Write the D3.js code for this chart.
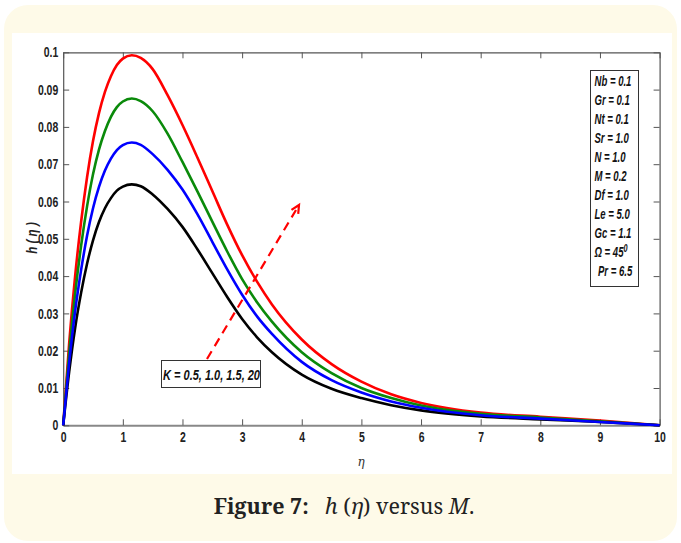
<!DOCTYPE html>
<html><head><meta charset="utf-8">
<script src="https://cdn.jsdelivr.net/npm/d3@7/dist/d3.min.js"></script>
<style>
html,body{margin:0;padding:0;background:#fff;}
svg{display:block;}
</style></head>
<body>
<svg id="chart" width="681" height="543"></svg>
<script>
// ---- data ----
const eta = [0, 0.1, 0.2, 0.3, 0.4, 0.5, 0.6, 0.7, 0.8, 0.9, 1.0, 1.15, 1.3, 1.5, 1.75, 2.0, 2.25, 2.5, 2.75, 3.0, 3.25, 3.5, 4.0, 4.5, 5.0, 5.5, 6.0, 7.0, 8.0, 9.0, 10.0];
const hK05 = [0, 0.0143, 0.0261, 0.0355, 0.0433, 0.0496, 0.0545, 0.0582, 0.0609, 0.0629, 0.0640, 0.0646, 0.0641, 0.0619, 0.0580, 0.0532, 0.0472, 0.0408, 0.0344, 0.0285, 0.0236, 0.0196, 0.0136, 0.0098, 0.0073, 0.0054, 0.0040, 0.0024, 0.0016, 0.0009, 0];
const hK10 = [0, 0.0168, 0.0306, 0.0416, 0.0508, 0.0582, 0.0639, 0.0683, 0.0715, 0.0738, 0.0751, 0.0758, 0.0752, 0.0727, 0.0685, 0.0632, 0.0566, 0.0492, 0.0418, 0.0350, 0.0292, 0.0245, 0.0170, 0.0121, 0.0088, 0.0064, 0.0047, 0.0027, 0.0018, 0.0009, 0];
const hK15 = [0, 0.0194, 0.0353, 0.0481, 0.0587, 0.0673, 0.0739, 0.0789, 0.0827, 0.0853, 0.0868, 0.0876, 0.0869, 0.0842, 0.0782, 0.0706, 0.0627, 0.0546, 0.0466, 0.0392, 0.0330, 0.0278, 0.0196, 0.0140, 0.0100, 0.0073, 0.0053, 0.0031, 0.0021, 0.0011, 0];
const hK20 = [0, 0.0220, 0.0400, 0.0545, 0.0665, 0.0762, 0.0837, 0.0894, 0.0936, 0.0966, 0.0983, 0.0992, 0.0985, 0.0955, 0.0885, 0.0805, 0.0718, 0.0628, 0.0538, 0.0456, 0.0385, 0.0324, 0.0230, 0.0164, 0.0117, 0.0083, 0.0060, 0.0034, 0.0023, 0.0013, 0];
const xTicks = [0,1,2,3,4,5,6,7,8,9,10];
const yTicks = [0,0.01,0.02,0.03,0.04,0.05,0.06,0.07,0.08,0.09,0.1];
const yTickLabels = ["0","0.01","0.02","0.03","0.04","0.05","0.06","0.07","0.08","0.09","0.1"];
const paramLabels = [["Nb","0.1"],["Gr","0.1"],["Nt","0.1"],["Sr","1.0"],["N","1.0"],["M","0.2"],["Df","1.0"],["Le","5.0"],["Gc","1.1"],["Ω","45"],["Pr","6.5"]];
const kLabel = "K = 0.5, 1.0, 1.5, 20";

const series = [
  {name:"K=2.0", values:hK20, color:"#ff0000"},
  {name:"K=1.5", values:hK15, color:"#0a8a0a"},
  {name:"K=0.5", values:hK05, color:"#000000"},
  {name:"K=1.0", values:hK10, color:"#0000ff"}
];

const svg = d3.select("#chart");
const tickFont = "'Liberation Sans',Arial,sans-serif";
const SX = 0.72;

// background panels
svg.append("rect").attr("x",4).attr("y",5).attr("width",673).attr("height",536).attr("rx",24).attr("fill","#fefae8");
svg.append("rect").attr("x",12).attr("y",33).attr("width",660).attr("height",441).attr("fill","#ffffff");

const x = d3.scaleLinear().domain([0,10]).range([63.2,659.6]);
const y = d3.scaleLinear().domain([0,0.1]).range([425.3,52.3]);

// axes
const gB = svg.append("g").attr("transform",`translate(0,${y(0)})`)
  .call(d3.axisBottom(x).tickValues(xTicks).tickFormat(d3.format("d")).tickSizeInner(-6).tickSizeOuter(0).tickPadding(6));
const gL = svg.append("g").attr("transform",`translate(${x(0)},0)`)
  .call(d3.axisLeft(y).tickValues(yTicks).tickFormat((d,i)=>yTickLabels[i]).tickSizeInner(-6).tickSizeOuter(0).tickPadding(5));
const gT = svg.append("g").attr("transform",`translate(0,${y(0.1)})`)
  .call(d3.axisTop(x).tickValues(xTicks).tickFormat("").tickSizeInner(-6).tickSizeOuter(0));
const gR = svg.append("g").attr("transform",`translate(${x(10)},0)`)
  .call(d3.axisRight(y).tickValues(yTicks).tickFormat("").tickSizeInner(-6).tickSizeOuter(0));
[gB,gL,gT,gR].forEach(g=>{
  g.selectAll("path.domain").attr("stroke","#555").attr("stroke-width",1.2);
  g.selectAll(".tick line").attr("stroke","#555").attr("stroke-width",1);
  g.selectAll(".tick text").attr("font-family",tickFont).attr("font-weight","bold").attr("font-size",14.5).attr("fill","#222");
});
gB.select("path.domain").attr("stroke","#888").attr("stroke-width",2);
gB.selectAll(".tick text").attr("transform",`scale(${SX},1)`);
gL.selectAll(".tick text").attr("x",-5/SX).attr("transform",`scale(${SX},1)`);

// curves
const line = d3.line().x((d,i)=>x(eta[i])).y(d=>y(d)).curve(d3.curveMonotoneX);
series.forEach(s=>{
  svg.append("path").datum(s.values).attr("d",line).attr("fill","none")
    .attr("stroke",s.color).attr("stroke-width",2.6).attr("stroke-linejoin","round");
});

// condensed text helper
function ctext(parent, tx, ty, sx, anchor, size){
  const g = parent.append("g").attr("transform",`translate(${tx},${ty}) scale(${sx},1)`);
  return g.append("text").attr("x",0).attr("y",0).attr("text-anchor",anchor||"start")
    .attr("font-family",tickFont).attr("font-weight","bold").attr("font-style","italic").attr("font-size",size||14.5).attr("fill","#111");
}

// axis labels
svg.append("text").attr("x",361).attr("y",466).attr("text-anchor","middle")
  .attr("font-family","'DejaVu Serif',serif").attr("font-style","italic").attr("font-size",12).attr("fill","#333").text("η");
const yl = svg.append("g").attr("transform","translate(37,238) rotate(-90) scale(0.8,1)");
yl.append("text").attr("text-anchor","middle").attr("font-family",tickFont).attr("font-weight","bold")
  .attr("font-style","italic").attr("font-size",14.5).attr("fill","#222").text("h ( η )");

// parameter box
svg.append("rect").attr("x",590.5).attr("y",70.5).attr("width",48).attr("height",216).attr("fill","#fff").attr("stroke","#333").attr("stroke-width",1);
paramLabels.forEach((p,i)=>{
  const t = ctext(svg, i===10 ? 598 : 594.5, 86 + i*19, 0.66, "start", 14.5);
  t.append("tspan").text(p[0]+" = "+p[1]);
  if(p[0]==="Ω") t.append("tspan").attr("dy",-5).attr("font-size",11).text("0");
});

// K annotation
svg.append("rect").attr("x",161.5).attr("y",360.5).attr("width",99).attr("height",27).attr("fill","#fff").attr("stroke","#333").attr("stroke-width",1);
ctext(svg, 211.5, 380, 0.76, "middle", 14.5).text(kLabel);

// dashed arrow
const ax0 = 207, ay0 = 359, ax1 = 299, ay1 = 205;
svg.append("line").attr("x1",ax0).attr("y1",ay0).attr("x2",ax1-3).attr("y2",ay1+5)
  .attr("stroke","#ff0000").attr("stroke-width",2.2).attr("stroke-dasharray","9,6");
const ang = Math.atan2(ay1-ay0, ax1-ax0);
const hl = 9, hw = 0.45;
svg.append("path").attr("d",`M${ax1+Math.cos(ang+Math.PI-hw)*hl},${ay1+Math.sin(ang+Math.PI-hw)*hl} L${ax1},${ay1} L${ax1+Math.cos(ang+Math.PI+hw)*hl},${ay1+Math.sin(ang+Math.PI+hw)*hl}`)
  .attr("fill","none").attr("stroke","#ff0000").attr("stroke-width",2.2);

// caption
const cap = svg.append("text").attr("x",344).attr("y",514).attr("text-anchor","middle")
  .attr("font-family","'Noto Serif','DejaVu Serif','Liberation Serif',serif").attr("font-size",21.5).attr("fill","#222");
cap.append("tspan").attr("font-weight","bold").text("Figure 7:");
cap.append("tspan").attr("dx",16).attr("font-style","italic").text("h");
cap.append("tspan").text(" (");
cap.append("tspan").attr("font-style","italic").text("η");
cap.append("tspan").text(") versus ");
cap.append("tspan").attr("font-style","italic").text("M");
cap.append("tspan").text(".");
</script>
</body></html>
